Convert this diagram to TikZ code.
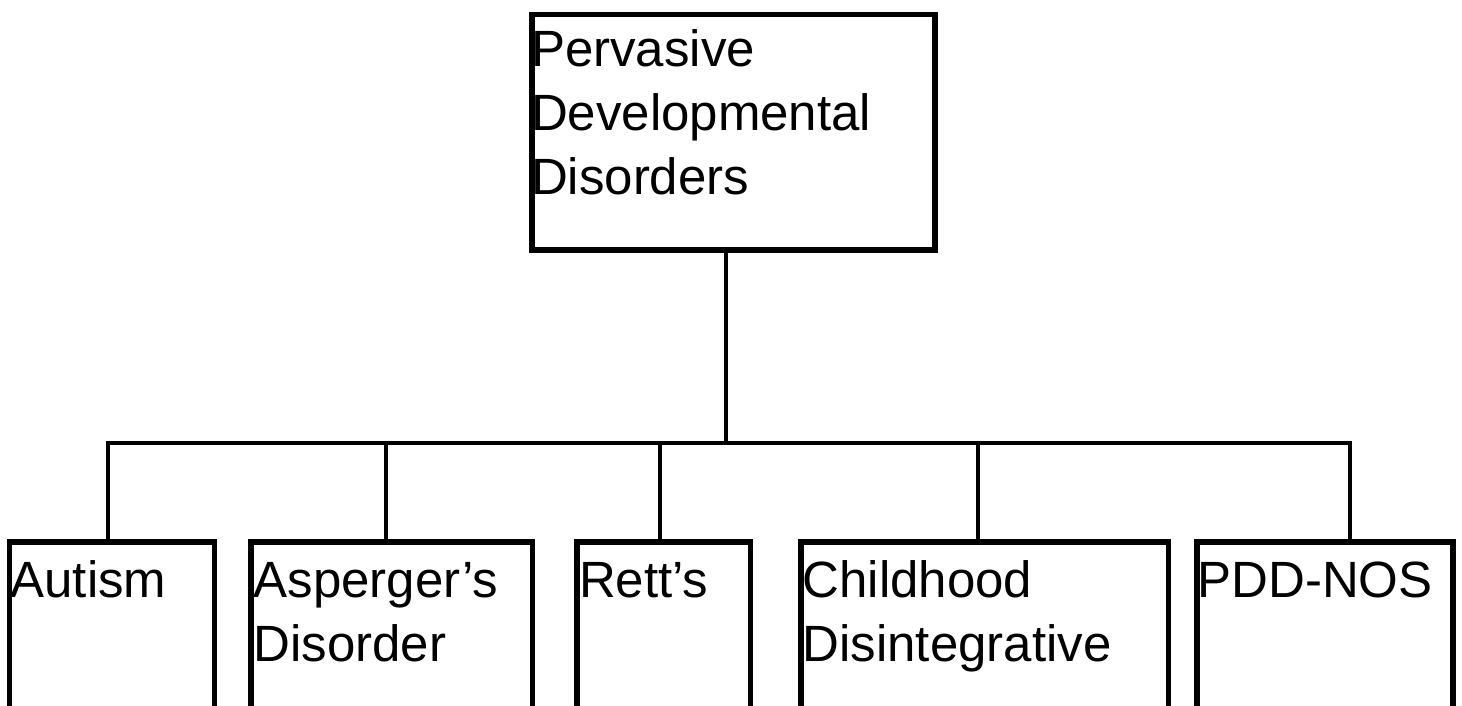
\documentclass[tikz,border=0pt]{standalone}
\usepackage{fontspec}
\setmainfont{Liberation Sans}
\begin{document}
\begin{tikzpicture}[x=1pt,y=-1pt,
  box/.style={draw, line width=5.5pt, inner sep=0pt, outer sep=0pt, anchor=north west},
  conn/.style={line width=4pt},
  lbl/.style={anchor=base west, inner sep=0pt, outer sep=0pt, align=left, font=\fontsize{51}{64}\selectfont}]
\useasboundingbox (0,0) rectangle (1462,705);
\clip (0,0) rectangle (1462,705);
% boxes
\node[box, minimum width=403pt, minimum height=235.5pt] (pdd) at (532,14.5) {};
\node[box, minimum width=205pt, minimum height=230pt] (autism) at (9.5,542) {};
\node[box, minimum width=281.5pt, minimum height=230pt] (asperger) at (251,542) {};
\node[box, minimum width=173.5pt, minimum height=230pt] (rett) at (577,542) {};
\node[box, minimum width=367.5pt, minimum height=230pt] (childhood) at (801,542) {};
\node[box, minimum width=256pt, minimum height=230pt] (pddnos) at (1197,542) {};
% labels (base anchor = baseline of the last line)
\node[lbl] (tPDD) at (531,194.5) {Pervasive\\Developmental\\Disorders};
\node[lbl] (tAut) at (10.5,597) {Autism};
\node[lbl] (tAsp) at (253.5,661) {Asperger’s\\Disorder};
\node[lbl] (tRet) at (579,597) {Rett’s};
\node[lbl] (tChi) at (802.5,661) {Childhood\\Disintegrative};
\node[lbl] (tNos) at (1197.5,597) {PDD-NOS};
% connectors
\coordinate (hub) at (726,443);
\coordinate (b1) at (108,443);
\coordinate (b2) at (385.5,443);
\coordinate (b3) at (660,443);
\coordinate (b4) at (977.5,443);
\coordinate (b5) at (1350,443);
\draw[conn] (hub |- pdd.south) -- (hub);
\draw[conn] (b1 |- autism.north) -- (b1) -- (b5) -- (b5 |- pddnos.north);
\draw[conn] (b2) -- (b2 |- asperger.north);
\draw[conn] (b3) -- (b3 |- rett.north);
\draw[conn] (b4) -- (b4 |- childhood.north);
\end{tikzpicture}
\end{document}
